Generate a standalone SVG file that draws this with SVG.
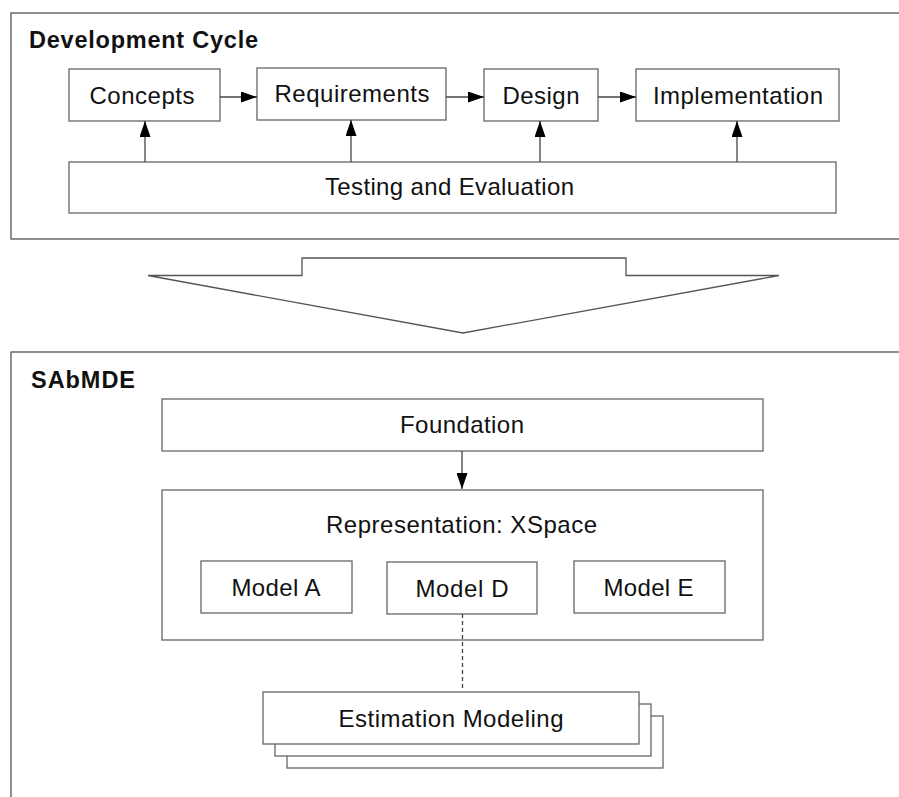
<svg xmlns="http://www.w3.org/2000/svg" width="899" height="797" viewBox="0 0 899 797">
<style>
.box{fill:#fff;stroke:#666;stroke-width:1.3}
.cont{fill:#fff;stroke:#555;stroke-width:1.3}
.lbl{font-family:"Liberation Sans",Arial,sans-serif;font-size:24px;fill:#111;text-anchor:middle}
.ttl{font-family:"Liberation Sans",Arial,sans-serif;font-size:23.5px;font-weight:bold;fill:#111}
.edge{stroke:#444;stroke-width:1.3;fill:none}
</style>
<defs>
<marker id="ah" viewBox="0 0 16 11" refX="16" refY="5.5" markerWidth="16" markerHeight="11" markerUnits="userSpaceOnUse" orient="auto">
<path d="M0,0 L16,5.5 L0,11 Z" fill="#000"/>
</marker>
</defs>
<rect width="899" height="797" fill="#fff"/>
<g id="dev-cycle">
<rect class="cont" x="11" y="13" width="900" height="226"/>
<text class="ttl" x="29" y="48" textLength="229" lengthAdjust="spacing">Development Cycle</text>
</g>
<g id="concepts"><rect class="box" x="69" y="69" width="151" height="52"/><text class="lbl" x="142" y="104" textLength="105" lengthAdjust="spacing">Concepts</text></g>
<g id="requirements"><rect class="box" x="257" y="68" width="189" height="52"/><text class="lbl" x="352" y="102" textLength="155" lengthAdjust="spacing">Requirements</text></g>
<g id="design"><rect class="box" x="484" y="69" width="114" height="52"/><text class="lbl" x="541" y="104" textLength="77" lengthAdjust="spacing">Design</text></g>
<g id="implementation"><rect class="box" x="636" y="69" width="203" height="52"/><text class="lbl" x="738" y="104" textLength="170" lengthAdjust="spacing">Implementation</text></g>
<g id="testing"><rect class="box" x="69" y="162" width="767" height="51"/><text class="lbl" x="449.5" y="195" textLength="249" lengthAdjust="spacing">Testing and Evaluation</text></g>
<g id="transition-arrow">
<path d="M148,275.5 L302,275.5 L302,258 L626,258 L626,275.5 L779,275.5 L463,333 Z" fill="#fff" stroke="#555" stroke-width="1.3" stroke-linejoin="miter"/>
</g>
<g id="sabmde">
<rect class="cont" x="11" y="352" width="900" height="460"/>
<text class="ttl" x="31" y="388" textLength="104" lengthAdjust="spacing">SAbMDE</text>
</g>
<g id="foundation"><rect class="box" x="162" y="399" width="601" height="52"/><text class="lbl" x="462" y="433" textLength="124" lengthAdjust="spacing">Foundation</text></g>
<g id="representation"><rect class="box" x="162" y="490" width="601" height="150"/><text class="lbl" x="461.5" y="533" textLength="271" lengthAdjust="spacing">Representation: XSpace</text></g>
<g id="model-a"><rect class="box" x="201" y="561" width="151" height="52"/><text class="lbl" x="276" y="596" textLength="89" lengthAdjust="spacing">Model A</text></g>
<g id="model-d"><rect class="box" x="387" y="562" width="150" height="52"/><text class="lbl" x="462" y="597" textLength="93" lengthAdjust="spacing">Model D</text></g>
<g id="model-e"><rect class="box" x="574" y="561" width="151" height="52"/><text class="lbl" x="648.5" y="596" textLength="90" lengthAdjust="spacing">Model E</text></g>
<g id="estimation">
<rect class="box" x="287" y="716" width="376" height="52"/>
<rect class="box" x="275" y="704" width="376" height="52"/>
<rect class="box" x="263" y="692" width="376" height="52"/>
<text class="lbl" x="451" y="727" textLength="225" lengthAdjust="spacing">Estimation Modeling</text>
</g>
<g id="connectors">
<line class="edge" x1="220" y1="97" x2="257" y2="97" marker-end="url(#ah)"/>
<line class="edge" x1="446" y1="97" x2="484" y2="97" marker-end="url(#ah)"/>
<line class="edge" x1="598" y1="97" x2="636" y2="97" marker-end="url(#ah)"/>
<line class="edge" x1="145" y1="162" x2="145" y2="121" marker-end="url(#ah)"/>
<line class="edge" x1="351" y1="162" x2="351" y2="120" marker-end="url(#ah)"/>
<line class="edge" x1="540" y1="162" x2="540" y2="121" marker-end="url(#ah)"/>
<line class="edge" x1="737" y1="162" x2="737" y2="121" marker-end="url(#ah)"/>
<line class="edge" x1="462" y1="451" x2="462" y2="489" marker-end="url(#ah)"/>
<line class="edge" x1="462.5" y1="614" x2="462.5" y2="691" stroke-dasharray="4,3"/>
</g>
</svg>
